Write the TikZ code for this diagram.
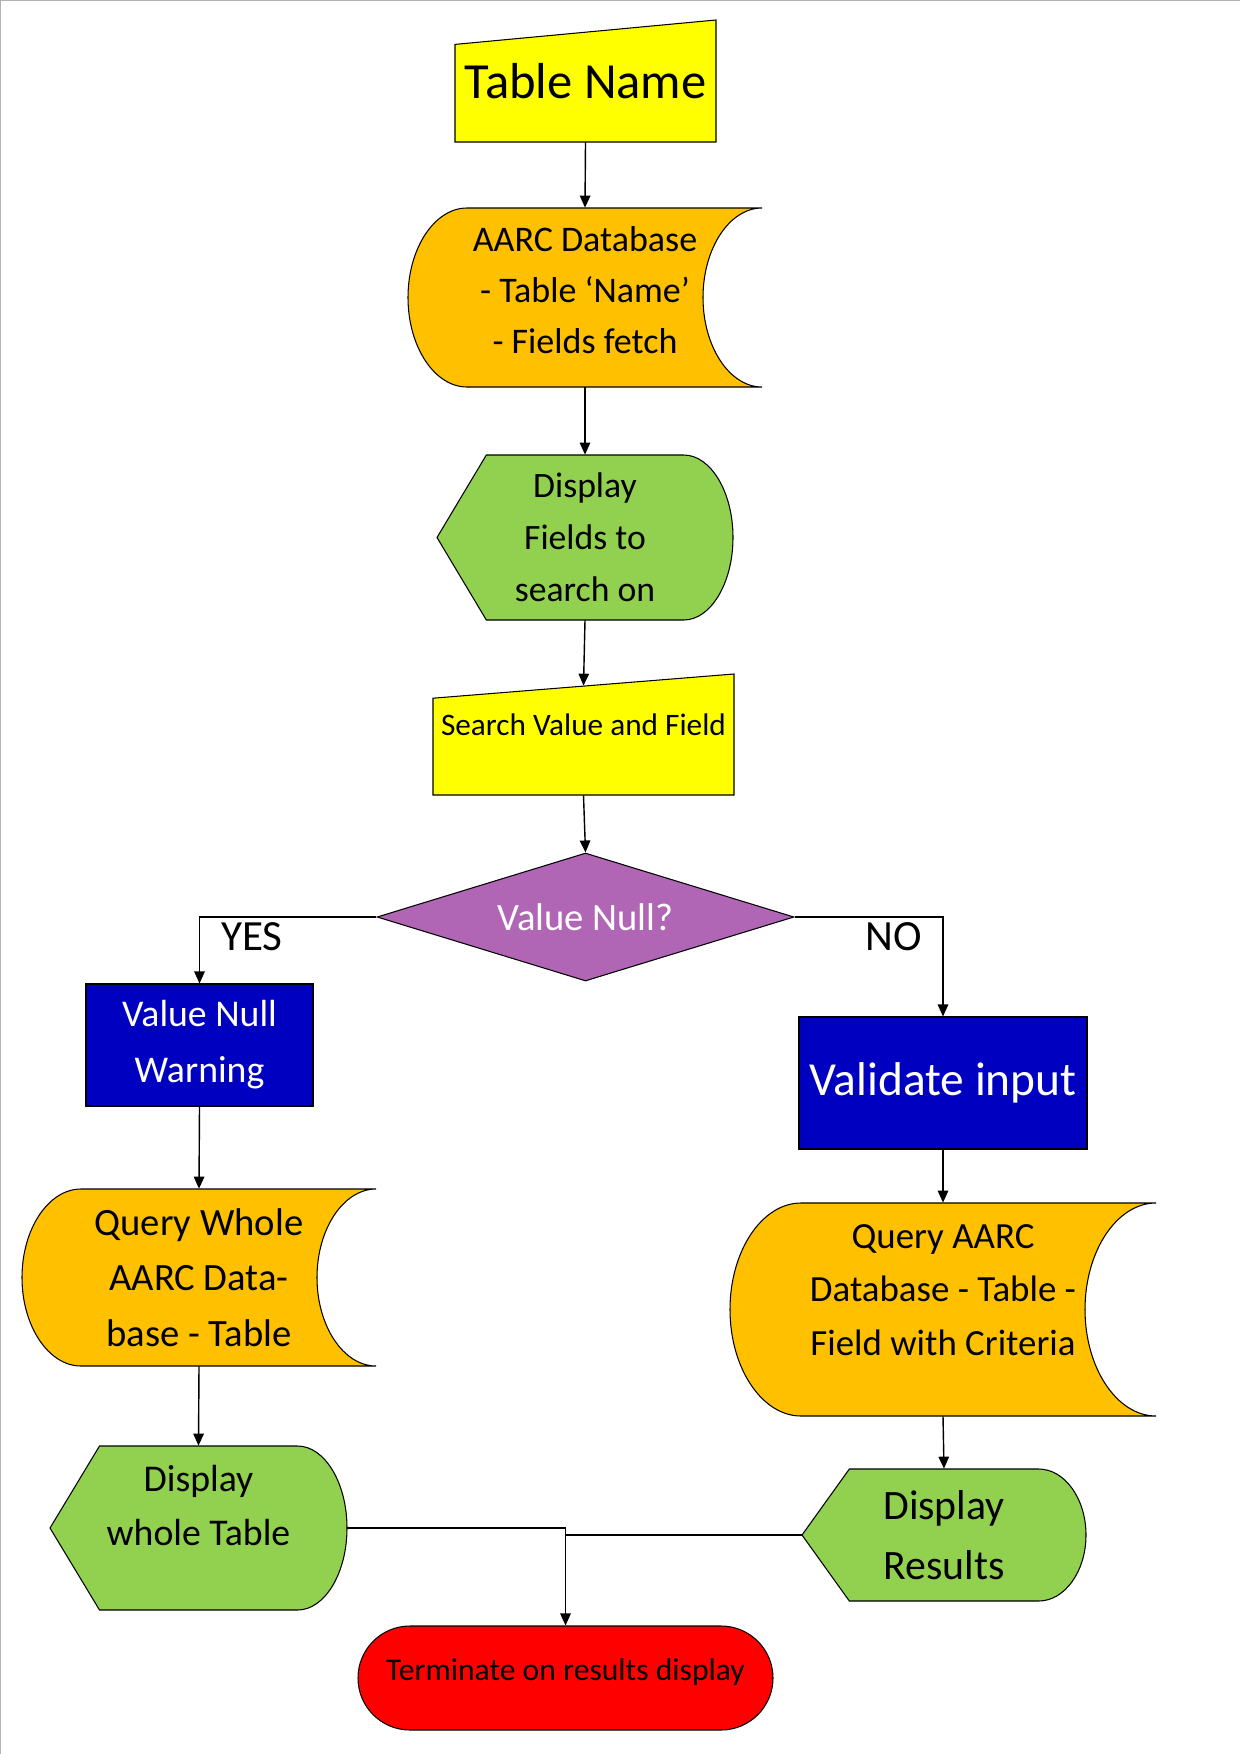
\documentclass[tikz,border=0pt]{standalone}
\usepackage{fontspec}
\setmainfont{Carlito}
\usetikzlibrary{arrows.meta,shapes.geometric}
\definecolor{fcYellow}{HTML}{FFFF00}
\definecolor{fcOrange}{HTML}{FFC000}
\definecolor{fcGreen}{HTML}{92D050}
\definecolor{fcPurple}{HTML}{B065B5}
\definecolor{fcBlue}{HTML}{0000C0}
\definecolor{fcRed}{HTML}{FF0000}

% outlines in page pixels: fill, x1, y1, x2, y2
\newcommand{\maninshape}[5]{%
  \filldraw[shapeline, fill=#1] (#2,{#3+(#5-#3)/5}) -- (#4,#3) -- (#4,#5) -- (#2,#5) -- cycle;}
\newcommand{\storedshape}[5]{%
  \pgfmathsetmacro{\stdepth}{(#4-#2)/6}%
  \pgfmathsetmacro{\stmid}{(#3+#5)/2}%
  \pgfmathsetmacro{\stbend}{0.55*(#5-#3)/2}%
  \filldraw[shapeline, fill=#1] ({#2+\stdepth},#3) -- (#4,#3)
    .. controls ({#4-0.55*\stdepth},#3) and ({#4-\stdepth},{\stmid-\stbend}) .. ({#4-\stdepth},\stmid)
    .. controls ({#4-\stdepth},{\stmid+\stbend}) and ({#4-0.55*\stdepth},#5) .. (#4,#5)
    -- ({#2+\stdepth},#5)
    .. controls ({#2+0.45*\stdepth},#5) and (#2,{\stmid+\stbend}) .. (#2,\stmid)
    .. controls (#2,{\stmid-\stbend}) and ({#2+0.45*\stdepth},#3) .. ({#2+\stdepth},#3) -- cycle;}
\newcommand{\displayshape}[5]{%
  \pgfmathsetmacro{\dpdepth}{(#4-#2)/6}%
  \pgfmathsetmacro{\dpmid}{(#3+#5)/2}%
  \pgfmathsetmacro{\dpbend}{0.55*(#5-#3)/2}%
  \filldraw[shapeline, fill=#1] (#2,\dpmid) -- ({#2+\dpdepth},#3) -- ({#4-\dpdepth},#3)
    .. controls ({#4-0.45*\dpdepth},#3) and (#4,{\dpmid-\dpbend}) .. (#4,\dpmid)
    .. controls (#4,{\dpmid+\dpbend}) and ({#4-0.45*\dpdepth},#5) .. ({#4-\dpdepth},#5)
    -- ({#2+\dpdepth},#5) -- cycle;}

\tikzset{
  shapeline/.style={draw=black, line width=0.6pt},
  boxsize/.style 2 args={minimum width=#1*0.02cm, minimum height=#2*0.02cm},
  txtnode/.style={inner sep=0pt, align=center, text=black},
  bluebox/.style={shapeline, fill=fcBlue, inner sep=0pt, align=center, text=white},
  flow/.style={line width=0.8pt, -{Triangle[length=2.4mm, width=2.1mm]}},
  joinline/.style={line width=0.8pt}
}

\begin{document}
\begin{tikzpicture}[x=0.02cm, y=-0.02cm]
    \useasboundingbox (0,0) rectangle (1240,1754);
    \draw[gray!60, line width=1pt] (0.5,1754) -- (0.5,0.5) -- (1240,0.5);

    % outlines first, the named nodes sit on top
    \maninshape{fcYellow}{455}{20}{716}{142}
    \storedshape{fcOrange}{408}{208}{762}{387}
    \displayshape{fcGreen}{437}{455}{733}{620}
    \maninshape{fcYellow}{433}{674}{734}{795}
    \storedshape{fcOrange}{22}{1189}{376}{1366}
    \storedshape{fcOrange}{730}{1203}{1156}{1416}
    \displayshape{fcGreen}{50}{1446}{347}{1610}
    \displayshape{fcGreen}{802}{1469}{1086}{1601}

    \node[txtnode, boxsize={261}{122}, font=\fontsize{28.8}{34}\selectfont] (tablename) at (585.5,81) {Table Name};
    \node[txtnode, boxsize={354}{179}, font=\fontsize{20.5}{29}\selectfont] (dbfetch) at (585,297.5)
        {AARC Database\\- Table ‘Name’\\- Fields fetch\\[-20pt]\mbox{}};
    \node[txtnode, boxsize={296}{165}, font=\fontsize{20.3}{29.5}\selectfont] (showfields) at (585,537.5)
        {Display\\Fields to\\search on};
    \node[txtnode, boxsize={301}{121}, font=\fontsize{17.8}{20}\selectfont] (searchval) at (583.5,734.5)
        {Search Value and Field\\[-9pt]\mbox{}};
    \node[diamond, aspect=3.26, shapeline, fill=fcPurple, inner sep=0pt, boxsize={417}{128}, text=white,
        font=\fontsize{22}{26}\selectfont] (isnull) at (585.5,917) {Value Null?};

    \node[txtnode, font=\fontsize{24.5}{28}\selectfont] (yeslbl) at (252,937) {YES};
    \node[txtnode, font=\fontsize{24.5}{28}\selectfont] (nolbl) at (894,937) {NO};

    \node[bluebox, boxsize={227}{122}, font=\fontsize{21.5}{32}\selectfont] (nullwarn) at (199.5,1045)
        {Value Null\\Warning};
    \node[bluebox, boxsize={288}{132}, font=\fontsize{27}{30}\selectfont] (validate) at (943,1083)
        {Validate input};

    \node[txtnode, boxsize={354}{177}, font=\fontsize{22}{31.5}\selectfont] (querywhole) at (199,1277.5)
        {Query Whole\\AARC Data-\\base - Table};
    \node[txtnode, boxsize={426}{213}, font=\fontsize{21}{30.5}\selectfont] (querycrit) at (943,1309.5)
        {Query AARC\\Database - Table -\\Field with Criteria\\[-8pt]\mbox{}};

    \node[txtnode, boxsize={297}{164}, font=\fontsize{21.5}{31}\selectfont] (showwhole) at (198.5,1528)
        {Display\\whole Table\\[-5.5pt]\mbox{}};
    \node[txtnode, boxsize={284}{132}, font=\fontsize{23.8}{34.5}\selectfont] (showresults) at (944,1535)
        {Display\\Results};

    \node[shapeline, fill=fcRed, inner sep=0pt, align=center, boxsize={415}{104}, rounded corners=1.04cm,
        font=\fontsize{18}{21}\selectfont] (finish) at (565.5,1678) {Terminate on results display\\[-11pt]\mbox{}};

    \draw[flow] (tablename.south) -- (dbfetch.north);
    \draw[flow] (dbfetch.south) -- (showfields.north);
    \draw[flow] (showfields.south) -- ([yshift=-0.24cm]searchval.north);
    \draw[flow] (searchval.south) -- (isnull.north);
    \draw[flow] (isnull.west) -| (nullwarn.north);
    \draw[flow] (isnull.east) -| (validate.north);
    \draw[flow] (nullwarn.south) -- (querywhole.north);
    \draw[flow] (validate.south) -- (querycrit.north);
    \draw[flow] (querywhole.south) -- (showwhole.north);
    \draw[flow] (querycrit.south) -- (showresults.north);
    \draw[flow] (showwhole.east) -| (finish.north);
    \draw[joinline] (showresults.west) -- (showresults.west -| finish.north);
\end{tikzpicture}
\end{document}
